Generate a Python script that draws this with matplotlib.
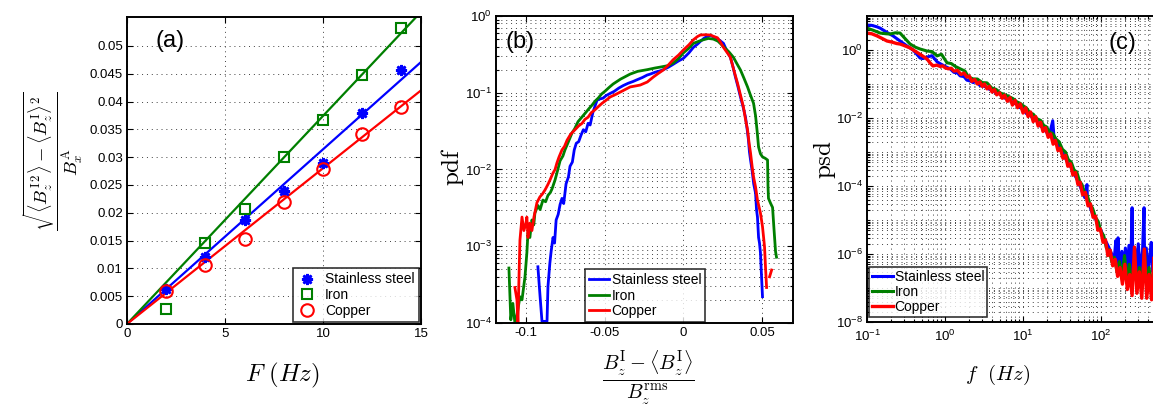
"""
Three-panel figure: (a) normalised field fluctuation vs forcing frequency,
(b) pdf of the normalised induced field, (c) power spectral density.
Values read off the reference picture.
"""

import matplotlib
matplotlib.use("Agg")
import matplotlib.pyplot as plt
from matplotlib import ticker

OUTPUT_PATH = "out.png"

BLUE = "#0000ff"
GREEN = "#007f00"
RED = "#ff0000"
GRID_STYLE = dict(color="0.25", linestyle=(0, (1, 4)), linewidth=0.7)
LABELS = ["Stainless steel", "Iron", "Copper"]

# ---------------- panel (a) ----------------
F_HZ = [2, 4, 6, 8, 10, 12, 14]
RATIO_STEEL = [0.0063, 0.0120, 0.0187, 0.0239, 0.0289, 0.0379, 0.0457]
RATIO_IRON = [0.0027, 0.0146, 0.0207, 0.0300, 0.0367, 0.0448, 0.0532]
RATIO_COPPER = [0.0059, 0.0106, 0.0153, 0.0219, 0.0279, 0.0342, 0.0390]
FIT_SLOPES = [0.00314, 0.00374, 0.00280]  # steel, iron, copper (through origin)
FIT_RANGE = [0, 15]
A_YTICKS = [0, 0.005, 0.01, 0.015, 0.02, 0.025, 0.03, 0.035, 0.04, 0.045, 0.05]
A_YTICKLABELS = ["0", "0.005", "0.01", "0.015", "0.02", "0.025", "0.03",
                 "0.035", "0.04", "0.045", "0.05"]

# ---------------- panel (b) ----------------
PDF_STEEL_X = [-0.0924, -0.0910, -0.0898, -0.0866, -0.0860, -0.0848, -0.0840, -0.0828,
               -0.0818, -0.0808, -0.0795, -0.0783, -0.0771, -0.0760, -0.0745, -0.0730,
               -0.0720, -0.0705, -0.0693, -0.0680, -0.0665, -0.0650, -0.0635, -0.0620,
               -0.0605, -0.0592, -0.0575, -0.0560, -0.0548, -0.0530, -0.0510, -0.0490,
               -0.0465, -0.0440, -0.0410, -0.0382, -0.0350, -0.0320, -0.0293, -0.0260,
               -0.0230, -0.0210, -0.0180, -0.0150, -0.0127, -0.0095, -0.0064, -0.0030,
               0.0, 0.0035, 0.0064, 0.0090, 0.0110, 0.0130, 0.0150, 0.0172, 0.0195,
               0.0220, 0.0255, 0.0280, 0.0299, 0.0315, 0.0331, 0.0347, 0.0363, 0.0380,
               0.0395, 0.0405, 0.0414, 0.0420, 0.0427, 0.0433, 0.0439, 0.0447, 0.0459,
               0.0465, 0.0471, 0.0478, 0.0484, 0.0490, 0.0497, 0.0503]
PDF_STEEL_Y = [5.4e-4, 2.2e-4, 1.05e-4, 1.05e-4, 3.0e-4, 6.0e-4, 8.5e-4, 1.3e-3,
               1.1e-3, 2.2e-3, 2.6e-3, 3.5e-3, 4.2e-3, 3.6e-3, 6.5e-3, 8.0e-3,
               1.1e-2, 1.25e-2, 1.8e-2, 2.2e-2, 2.3e-2, 2.8e-2, 3.3e-2, 3.1e-2,
               4.0e-2, 3.8e-2, 5.5e-2, 6.8e-2, 8.0e-2, 8.3e-2, 0.085, 0.092,
               0.098, 0.104, 0.115, 0.124, 0.133, 0.140, 0.148, 0.158,
               0.170, 0.175, 0.185, 0.192, 0.200, 0.215, 0.235, 0.26,
               0.28, 0.33, 0.39, 0.43, 0.47, 0.51, 0.54, 0.56, 0.53,
               0.50, 0.44, 0.34, 0.29, 0.22, 0.16, 0.12, 0.088, 0.065,
               0.048, 0.034, 0.024, 0.017, 0.0133, 0.011, 0.0090, 0.0065, 0.0049,
               0.0030, 0.0024, 0.0013, 0.0011, 0.00082, 0.00040, 0.00022]

PDF_IRON_X = [-0.1108, -0.1096, -0.1083, -0.1070, -0.1064, -0.1051, -0.1038, -0.1025,
              -0.1006, -0.0994, -0.0987, -0.0975, -0.0962, -0.0950, -0.0943, -0.0924,
              -0.0910, -0.0892, -0.0875, -0.0860, -0.0845, -0.0834, -0.0815, -0.0800,
              -0.0783, -0.0765, -0.0752, -0.0730, -0.0707, -0.0690, -0.0669, -0.0645,
              -0.0624, -0.0600, -0.0580, -0.0560, -0.0541, -0.0520, -0.0497, -0.0470,
              -0.0446, -0.0400, -0.0338, -0.0290, -0.0229, -0.0180, -0.0146, -0.0100,
              -0.0064, -0.0030, 0.0, 0.0035, 0.0064, 0.0100, 0.0127, 0.0159, 0.0191,
              0.0220, 0.0255, 0.0290, 0.0318, 0.0340, 0.0363, 0.0385, 0.0408, 0.0425,
              0.0446, 0.0459, 0.0470, 0.0478, 0.0490, 0.0503, 0.0520, 0.0535, 0.0538,
              0.0541, 0.0555, 0.0567, 0.0575, 0.0586, 0.0592]
PDF_IRON_Y = [5.2e-4, 1.1e-4, 1.8e-4, 1.0e-4, 1.0e-4, 1.5e-4, 2.2e-4, 2.0e-4,
              4.0e-4, 8.2e-4, 1.5e-3, 1.3e-3, 2.2e-3, 1.9e-3, 2.7e-3, 3.4e-3,
              3.0e-3, 4.0e-3, 3.8e-3, 4.6e-3, 5.0e-3, 5.6e-3, 7.3e-3, 9.5e-3,
              1.3e-2, 1.5e-2, 1.8e-2, 2.3e-2, 3.0e-2, 3.4e-2, 4.2e-2, 4.8e-2,
              5.4e-2, 6.2e-2, 6.9e-2, 7.8e-2, 8.5e-2, 9.6e-2, 0.105, 0.118,
              0.130, 0.150, 0.175, 0.190, 0.200, 0.210, 0.216, 0.225,
              0.244, 0.28, 0.33, 0.38, 0.44, 0.47, 0.49, 0.51, 0.50,
              0.47, 0.40, 0.34, 0.29, 0.24, 0.198, 0.155, 0.119, 0.095,
              0.073, 0.050, 0.030, 0.0196, 0.016, 0.0146, 0.0140, 0.0133, 0.0060,
              0.0042, 0.0036, 0.0032, 0.0018, 0.00085, 0.00072]

PDF_COPPER_X = [-0.1070, -0.1057, -0.1051, -0.1044, -0.1038, -0.1025, -0.1013, -0.1000,
                -0.0994, -0.0987, -0.0975, -0.0962, -0.0949, -0.0930, -0.0911, -0.0895,
                -0.0879, -0.0860, -0.0847, -0.0828, -0.0815, -0.0803, -0.0790, -0.0771,
                -0.0755, -0.0739, -0.0715, -0.0688, -0.0665, -0.0643, -0.0625, -0.0605,
                -0.0585, -0.0561, -0.0540, -0.0516, -0.0490, -0.0465, -0.0430, -0.0401,
                -0.0370, -0.0338, -0.0300, -0.0274, -0.0229, -0.0191, -0.0160, -0.0127,
                -0.0095, -0.0064, -0.0030, 0.0, 0.0035, 0.0064, 0.0090, 0.0108, 0.0140,
                0.0172, 0.0195, 0.0217, 0.0235, 0.0255, 0.0280, 0.0299, 0.0320, 0.0344,
                0.0365, 0.0382, 0.0395, 0.0408, 0.0418, 0.0427, 0.0437, 0.0446, 0.0459,
                0.0471, 0.0490, 0.0503, 0.0510, 0.0516, 0.0522, 0.0529]
PDF_COPPER_Y = [2.9e-4, 2.0e-4, 1.0e-4, 4.0e-4, 1.2e-3, 2.4e-3, 1.6e-3, 2.0e-3,
                2.4e-3, 1.3e-3, 2.0e-3, 1.6e-3, 2.4e-3, 3.7e-3, 4.4e-3, 4.8e-3,
                5.4e-3, 6.4e-3, 7.3e-3, 9.0e-3, 1.0e-2, 1.22e-2, 1.45e-2, 1.8e-2,
                2.0e-2, 2.4e-2, 2.9e-2, 3.3e-2, 3.7e-2, 4.0e-2, 4.5e-2, 4.8e-2,
                5.5e-2, 6.0e-2, 6.6e-2, 7.3e-2, 8.0e-2, 8.8e-2, 9.5e-2, 0.102,
                0.110, 0.119, 0.123, 0.126, 0.138, 0.160, 0.178, 0.198,
                0.23, 0.27, 0.31, 0.36, 0.42, 0.49, 0.54, 0.565, 0.57,
                0.565, 0.54, 0.52, 0.46, 0.39, 0.33, 0.29, 0.20, 0.134,
                0.090, 0.065, 0.045, 0.033, 0.022, 0.0164, 0.011, 0.0080, 0.0059,
                0.0040, 0.0027, 0.0018, 0.0013, 0.00098, 0.00054, 0.00029]
PDF_COPPER_TAIL_X = [0.0548, 0.0561]
PDF_COPPER_TAIL_Y = [4.0e-4, 4.9e-4]
B_XTICKS = [-0.1, -0.05, 0, 0.05]
B_XTICKLABELS = ["-0.1", "-0.05", "0", "0.05"]

# ---------------- panel (c) ----------------
PSD_STEEL_F = [0.1, 0.115, 0.134, 0.147, 0.18, 0.215, 0.26, 0.326, 0.39, 0.478, 0.52,
               0.59, 0.68, 0.79, 0.86, 1.0, 1.16, 1.3, 1.45, 1.56, 1.75, 1.9, 2.09,
               2.3, 2.5, 2.8, 3.07, 3.4, 3.7, 4.12, 4.6, 5.0, 5.5, 6.23, 6.8, 7.5,
               8.2, 9.2, 10, 11, 12.3, 13.4, 14.8, 16.5, 18, 20, 22, 24, 25, 27,
               29.5, 32, 35, 38, 41.5, 45, 49, 53, 57, 62, 66, 67, 72, 78, 85, 92,
               100, 108, 117, 127, 137, 148, 155, 160, 165, 172, 185, 195, 205, 215,
               228, 240, 250, 256, 270, 285, 300, 320, 340, 356, 362, 380, 400, 420,
               440, 460, 490, 520]
PSD_STEEL = [5.4, 5.3, 4.8, 4.4, 3.3, 2.6, 1.9, 1.31, 1.0, 0.58, 0.56,
             0.62, 0.68, 0.45, 0.40, 0.33, 0.28, 0.22, 0.21, 0.173, 0.165, 0.13, 0.123,
             0.11, 0.12, 0.09, 0.088, 0.08, 0.07, 0.063, 0.052, 0.055, 0.04, 0.037, 0.035, 0.026,
             0.028, 0.020, 0.019, 0.0135, 0.0125, 0.0095, 0.0085, 0.0059, 0.0052, 0.0038,
             0.0035, 0.0083, 0.0025, 0.0019,
             0.0013, 0.0010, 6.5e-4, 4.5e-4, 3.5e-4, 2.3e-4, 1.6e-4, 1.1e-4, 7e-5, 4.5e-5,
             1.1e-4, 3.5e-5, 2.5e-5, 1.5e-5, 1.1e-5, 6.5e-6,
             5e-6, 3e-6, 2.2e-6, 1.5e-6, 1e-6, 8e-7, 2.5e-6, 5e-7, 3e-6, 4e-7, 1.2e-6,
             3e-7, 1.5e-6, 3e-7,
             1.8e-6, 3e-7, 2.3e-5, 3e-7, 1.5e-6, 2.5e-7, 2.0e-6, 3e-7, 1.2e-6, 2.3e-5,
             3e-7, 1.5e-6, 2.5e-7, 8e-7,
             2.2e-6, 3e-7, 1.2e-6, 2.5e-7]

PSD_IRON_F = [0.1, 0.12, 0.147, 0.175, 0.197, 0.23, 0.265, 0.30, 0.356, 0.42, 0.478,
              0.59, 0.68, 0.79, 0.9, 1.06, 1.2, 1.35, 1.56, 1.8, 2.0, 2.29, 2.6, 3.0,
              3.45, 4.0, 4.5, 5.07, 5.6, 6.3, 7.45, 8.3, 9.2, 10, 11, 12.3, 13.5, 15.1,
              16.8, 18.5, 20, 22, 24, 26.5, 29, 32, 35, 38, 41.5, 45, 49, 53, 57, 62,
              67, 72, 78, 85, 92, 100, 108, 117, 127, 137, 148, 160, 172, 185, 200,
              215, 230, 250, 270, 290, 310, 335, 360, 385, 413, 444, 477, 512]
PSD_IRON = [4.4, 3.8, 3.15, 3.0, 2.95, 3.2, 3.15, 2.3, 1.5, 1.2, 1.07,
            0.93, 0.90, 0.67, 0.75, 0.42, 0.40, 0.33, 0.28, 0.24, 0.16, 0.141, 0.14, 0.11,
            0.108, 0.075, 0.07, 0.055, 0.05, 0.045, 0.037, 0.03, 0.027, 0.023, 0.02, 0.014,
            0.013, 0.0095,
            0.0085, 0.006, 0.0055, 0.0038, 0.0035, 0.0024, 0.002, 0.0012, 0.001, 6e-4,
            5e-4, 3e-4, 2.5e-4, 1.4e-4, 1.1e-4, 6e-5,
            5e-5, 3e-5, 2.2e-5, 1.2e-5, 9e-6, 4.5e-6, 3.5e-6, 1.5e-6, 1.3e-6, 6e-7, 8e-7,
            3e-7, 6e-7, 2e-7, 9e-7,
            1.5e-7, 5e-7, 1.2e-7, 6e-7, 1.2e-7, 4e-7, 1e-7, 1.2e-6, 1e-7, 4e-7, 9e-8,
            5e-7, 1e-7]

PSD_COPPER_F = [0.1, 0.115, 0.134, 0.155, 0.18, 0.21, 0.24, 0.265, 0.30, 0.356, 0.42,
                0.50, 0.59, 0.64, 0.70, 0.78, 0.86, 0.94, 1.0, 1.1, 1.2, 1.3, 1.45, 1.6,
                1.75, 1.9, 2.05, 2.2, 2.4, 2.6, 2.8, 3.0, 3.2, 3.45, 3.7, 4.0, 4.3, 4.6,
                5.0, 5.4, 5.8, 6.3, 6.8, 7.3, 7.9, 8.5, 9.2, 10, 10.8, 11.6, 12.5, 13.5,
                14.5, 15.6, 16.8, 18, 19.4, 21, 22.6, 24.3, 26, 28, 30, 32.5, 35, 37.5,
                40.5, 43.5, 47, 50.5, 54, 58, 63, 68, 73, 79, 85, 91, 98, 106, 114, 122,
                131, 141, 152, 163, 175, 188, 202, 217, 233, 250, 268, 288, 310, 333,
                358, 385, 413, 444, 477, 512]
PSD_COPPER = [3.15, 3.0, 2.6, 2.2, 1.84, 1.7, 1.55, 1.5, 1.35, 1.15, 0.9,
              0.7, 0.54, 0.42, 0.34, 0.36, 0.33, 0.34, 0.30, 0.28, 0.29, 0.24, 0.25, 0.19,
              0.21, 0.16, 0.17, 0.12, 0.135, 0.10, 0.115, 0.085, 0.10, 0.072, 0.085, 0.058,
              0.068, 0.048,
              0.055, 0.038, 0.047, 0.031, 0.040, 0.024, 0.033, 0.020, 0.026, 0.014, 0.020,
              0.011, 0.015, 0.0078,
              0.011, 0.0058, 0.0075, 0.0040, 0.0052, 0.0027, 0.0034, 0.0017, 0.0022, 0.0011,
              0.0013, 6.5e-4, 8.0e-4, 3.8e-4,
              4.5e-4, 2.1e-4, 2.5e-4, 1.1e-4, 1.3e-4, 5.5e-5, 6.5e-5, 2.6e-5, 3.0e-5, 1.2e-5,
              1.3e-5, 5.0e-6, 5.5e-6, 2.2e-6, 2.6e-6, 9e-7,
              1.3e-6, 4.5e-7, 7e-7, 2.2e-7, 4e-7, 1.3e-7, 5e-7, 9e-8, 2.5e-7, 6e-8, 1.6e-6,
              7e-8, 3e-7, 5e-8,
              1.4e-6, 5e-8, 2.5e-7, 4.5e-8, 8e-7, 5e-8]
C_XTICKS = [0.1, 1, 10, 100]
C_YTICKS = [1e-8, 1e-6, 1e-4, 1e-2, 1e0]


def style_axes(ax):
    ax.tick_params(which="both", direction="in", top=True, right=True,
                   labelsize=9.5, pad=3, width=0.8)
    ax.tick_params(which="major", length=4)
    ax.tick_params(which="minor", length=2)
    for spine in ax.spines.values():
        spine.set_linewidth(1.4)
    ax.set_axisbelow(True)


def plot_panel_a(ax):
    markers = [dict(marker=(8, 2, 0), markersize=8, markeredgewidth=1.9,
                    color=BLUE),
               dict(marker="s", markersize=7, markeredgewidth=1.5,
                    color=GREEN, markerfacecolor="none"),
               dict(marker="o", markersize=9, markeredgewidth=1.5,
                    color=RED, markerfacecolor="none")]
    series = [RATIO_STEEL, RATIO_IRON, RATIO_COPPER]
    handles = []
    for values, slope, mk, label in zip(series, FIT_SLOPES, markers, LABELS):
        ax.plot(FIT_RANGE, [slope * f for f in FIT_RANGE], color=mk["color"],
                linewidth=1.6, zorder=2)
        h, = ax.plot(F_HZ, values, linestyle="none", label=label, zorder=3, **mk)
        handles.append(h)
    ax.set_xlim(0, 15)
    ax.set_ylim(0, 0.0552)
    ax.set_xticks([0, 5, 10, 15])
    ax.set_yticks(A_YTICKS)
    ax.set_yticklabels(A_YTICKLABELS)
    ax.grid(True, **GRID_STYLE)
    style_axes(ax)
    leg = ax.legend(handles=handles, loc="lower right", fontsize=10,
                    frameon=True, fancybox=False, edgecolor="k",
                    borderaxespad=0.15, handlelength=1.4, handletextpad=0.6,
                    labelspacing=0.12, borderpad=0.3)
    leg.get_frame().set_linewidth(1.2)
    ax.set_xlabel(r"$F\ (Hz)$", fontsize=18)
    ax.xaxis.label.set_va("center")
    ax.xaxis.set_label_coords(0.527, -0.166)
    ax.set_ylabel(r"$\frac{\sqrt{\langle {B_z^{\mathrm{I}}}^2\rangle"
                  r" - \langle B_z^{\mathrm{I}}\rangle^2}}{B_x^{\mathrm{A}}}$",
                  fontsize=19)
    ax.yaxis.label.set_va("center")
    ax.yaxis.set_label_coords(-0.252, 0.53)
    ax.text(0.146, 0.922, "(a)", transform=ax.transAxes, fontsize=17,
            ha="center", va="center")


def plot_panel_b(ax):
    ax.semilogy(PDF_STEEL_X, PDF_STEEL_Y, color=BLUE, linewidth=2, label=LABELS[0])
    ax.semilogy(PDF_IRON_X, PDF_IRON_Y, color=GREEN, linewidth=2, label=LABELS[1])
    ax.semilogy(PDF_COPPER_X, PDF_COPPER_Y, color=RED, linewidth=2, label=LABELS[2])
    ax.semilogy(PDF_COPPER_TAIL_X, PDF_COPPER_TAIL_Y, color=RED, linewidth=2)
    ax.set_xlim(-0.119, 0.0697)
    ax.set_ylim(1e-4, 1)
    ax.set_xticks(B_XTICKS)
    ax.set_xticklabels(B_XTICKLABELS)
    ax.grid(True, which="major", axis="x", **GRID_STYLE)
    ax.grid(True, which="both", axis="y", **GRID_STYLE)
    style_axes(ax)
    leg = ax.legend(loc="lower left", bbox_to_anchor=(0.30, 0.004), fontsize=10,
                    frameon=True, fancybox=False, edgecolor="k", borderaxespad=0,
                    handlelength=1.5, handletextpad=0.15, labelspacing=0.12,
                    borderpad=0.25)
    leg.get_frame().set_linewidth(1.2)
    ax.set_xlabel(r"$\frac{B_z^{\mathrm{I}} - \langle B_z^{\mathrm{I}}\rangle}"
                  r"{B_z^{\mathrm{rms}}}$", fontsize=21)
    ax.xaxis.label.set_va("center")
    ax.xaxis.set_label_coords(0.512, -0.178)
    ax.set_ylabel(r"$\mathrm{pdf}$", fontsize=18)
    ax.yaxis.label.set_va("center")
    ax.yaxis.set_label_coords(-0.145, 0.508)
    ax.text(0.081, 0.915, "(b)", transform=ax.transAxes, fontsize=17,
            ha="center", va="center")


def plot_panel_c(ax):
    ax.loglog(PSD_STEEL_F, PSD_STEEL, color=BLUE, linewidth=2.2, label=LABELS[0])
    ax.loglog(PSD_IRON_F, PSD_IRON, color=GREEN, linewidth=2.2, label=LABELS[1])
    ax.loglog(PSD_COPPER_F, PSD_COPPER, color=RED, linewidth=2.4, label=LABELS[2])
    ax.set_xlim(0.1, 1000)
    ax.set_ylim(1e-8, 10)
    # the 10^3 end of the axis falls outside the picture, so no label there
    ax.set_xticks(C_XTICKS)
    ax.set_yticks(C_YTICKS)
    minor = [m * 10.0 ** k for k in range(-8, 1) for m in range(1, 10)
             if not (m == 1 and k % 2 == 0)]
    ax.yaxis.set_minor_locator(ticker.FixedLocator(minor))
    ax.yaxis.set_minor_formatter(ticker.NullFormatter())
    ax.grid(True, which="both", **GRID_STYLE)
    style_axes(ax)
    ax.tick_params(axis="x", which="major", pad=5)
    leg = ax.legend(loc="lower left", bbox_to_anchor=(0.006, 0.016), fontsize=10,
                    frameon=True, fancybox=False, edgecolor="k", borderaxespad=0,
                    handlelength=1.5, handletextpad=0.15, labelspacing=0.1,
                    borderpad=0.2)
    leg.get_frame().set_linewidth(1.2)
    ax.set_xlabel(r"$f\ \ (Hz)$", fontsize=15)
    ax.xaxis.label.set_va("center")
    ax.xaxis.set_label_coords(0.42, -0.173)
    ax.set_ylabel(r"$\mathrm{psd}$", fontsize=18)
    ax.yaxis.label.set_va("center")
    ax.yaxis.set_label_coords(-0.135, 0.53)
    ax.text(0.817, 0.912, "(c)", transform=ax.transAxes, fontsize=17,
            ha="center", va="center")


def main():
    plt.rcParams["font.family"] = ["Liberation Sans", "DejaVu Sans"]
    plt.rcParams["mathtext.fontset"] = "cm"

    fig = plt.figure(figsize=(11.53, 4.05), dpi=100, facecolor="white")
    ax_a = fig.add_axes([0.1101, 0.200, 0.2550, 0.758])
    ax_b = fig.add_axes([0.4302, 0.2025, 0.2576, 0.758])
    ax_c = fig.add_axes([0.7520, 0.2049, 0.2706, 0.7556])

    plot_panel_a(ax_a)
    plot_panel_b(ax_b)
    plot_panel_c(ax_c)

    fig.savefig(OUTPUT_PATH, dpi=100, facecolor="white")


if __name__ == "__main__":
    main()
